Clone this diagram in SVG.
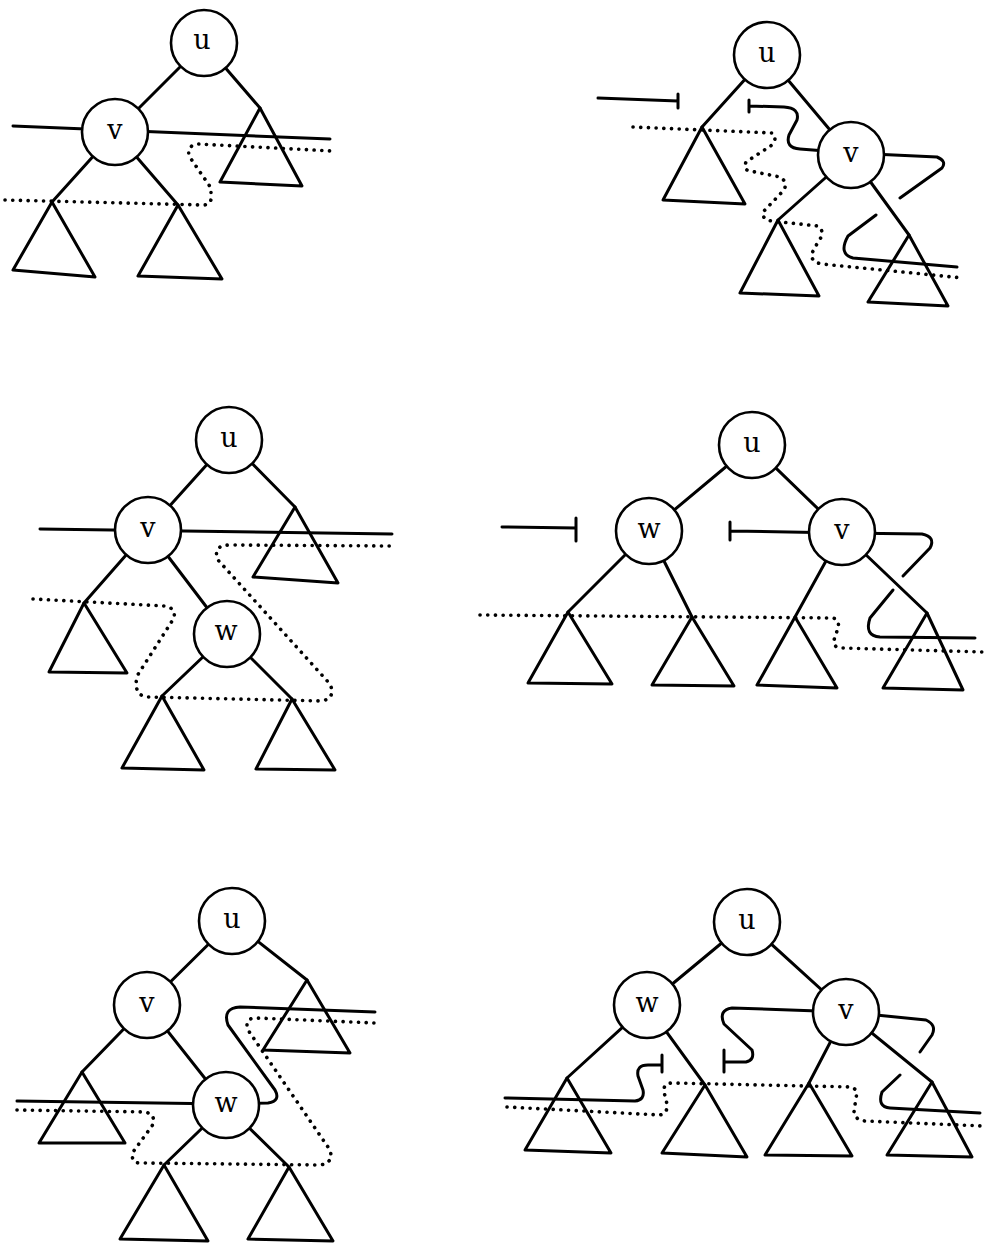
<svg xmlns="http://www.w3.org/2000/svg" width="985" height="1244" viewBox="0 0 985 1244">
<style>
.e{stroke:#000;stroke-width:3;fill:none;stroke-linecap:round}
.t{stroke:#000;stroke-width:3;fill:none;stroke-linejoin:round}
.n{stroke:#000;stroke-width:2.6;fill:#fff}
.s{stroke:#000;stroke-width:3;fill:none;stroke-linecap:round;stroke-linejoin:round}
.d{stroke:#000;stroke-width:3.6;fill:none;stroke-linecap:round;stroke-dasharray:0.1 7.6}
.l{font-family:"DejaVu Serif","Liberation Serif",serif;font-size:27px;text-anchor:middle;fill:#000}
</style>
<rect width="985" height="1244" fill="#fff"/>

<g id="connectors">
  <!-- panel 1 -->
  <path class="e" d="M204,43 L115,132 M204,43 L260,108 M115,132 L52,202 M115,132 L178,205"/>
  <!-- panel 2 -->
  <path class="e" d="M767,55 L702,127 M767,55 L851,155 M851,155 L778,220 M851,155 L909,235"/>
  <!-- panel 3 -->
  <path class="e" d="M229,440 L148,530 M229,440 L295,507 M148,530 L84,603 M148,530 L227,634 M227,634 L162,696 M227,634 L292,699"/>
  <!-- panel 4 -->
  <path class="e" d="M752,445 L649,531 M752,445 L842,532 M649,531 L568,612 M649,531 L692,617 M842,532 L795,617 M842,532 L927,613"/>
  <!-- panel 5 -->
  <path class="e" d="M232,921 L147,1005 M232,921 L307,980 M147,1005 L82,1072 M147,1005 L226,1105 M226,1105 L164,1165 M226,1105 L289,1167"/>
  <!-- panel 6 -->
  <path class="e" d="M747,922 L647,1005 M747,922 L846,1012 M647,1005 L567,1078 M647,1005 L705,1085 M846,1012 L809,1083 M846,1012 L932,1082"/>
</g>

<g id="subtrees">
  <polygon id="p1-t1" class="t" points="52,202 13,270 95,277"/>
  <polygon id="p1-t2" class="t" points="178,205 138,276 222,279"/>
  <polygon id="p1-t3" class="t" points="260,108 220,182 302,186"/>

  <polygon id="p2-t1" class="t" points="702,127 663,200 745,204"/>
  <polygon id="p2-t2" class="t" points="778,220 740,293 819,296"/>
  <polygon id="p2-t3" class="t" points="909,235 868,302 948,306"/>

  <polygon id="p3-t1" class="t" points="295,507 253,577 338,583"/>
  <polygon id="p3-t2" class="t" points="84,603 49,672 127,673"/>
  <polygon id="p3-t3" class="t" points="162,696 122,768 204,770"/>
  <polygon id="p3-t4" class="t" points="292,699 256,769 335,770"/>

  <polygon id="p4-t1" class="t" points="568,612 528,683 612,684"/>
  <polygon id="p4-t2" class="t" points="692,617 652,685 734,686"/>
  <polygon id="p4-t3" class="t" points="795,617 757,685 837,688"/>
  <polygon id="p4-t4" class="t" points="927,613 883,688 963,690"/>

  <polygon id="p5-t1" class="t" points="307,980 263,1050 350,1053"/>
  <polygon id="p5-t2" class="t" points="82,1072 39,1143 125,1143"/>
  <polygon id="p5-t3" class="t" points="164,1165 120,1239 208,1241"/>
  <polygon id="p5-t4" class="t" points="289,1167 248,1239 333,1241"/>

  <polygon id="p6-t1" class="t" points="567,1078 525,1150 611,1153"/>
  <polygon id="p6-t2" class="t" points="705,1085 662,1153 747,1157"/>
  <polygon id="p6-t3" class="t" points="809,1083 765,1155 852,1156"/>
  <polygon id="p6-t4" class="t" points="932,1082 887,1155 972,1157"/>
</g>

<g id="cuts">
  <!-- panel 1 -->
  <path class="s" d="M13,126 L330,139"/>
  <path class="d" d="M5,200 L203,205 Q212,205 211,196 L211,188 L189,156 Q187,145 198,144 L332,151"/>
  <!-- panel 2 -->
  <path class="s" d="M598,98 L678,101 M678,94 L678,108"/>
  <path class="s" d="M749,100 L749,112 M749,106 L784,107 Q800,108 797,120 L789,135 Q785,148 800,149 L851,153"/>
  <path class="s" d="M851,153 L937,157 Q947,161 942,168 L900,198 M876,215 L848,236 Q838,254 853,258 L957,267"/>
  <path class="d" d="M633,127 L772,133 Q778,137 772,145 L746,162 Q743,170 750,171 L780,177 Q788,182 784,190 L763,212 Q762,220 772,221 L818,226 Q826,232 818,242 L812,253 Q810,262 822,264 L963,278"/>
  <!-- panel 3 -->
  <path class="s" d="M40,529 L392,534"/>
  <path class="d" d="M33,599 L165,606 Q176,608 174,618 L137,676 Q133,696 148,697 L322,701 Q336,698 330,684 L218,560 Q212,545 230,545 L392,546"/>
  <!-- panel 4 -->
  <path class="s" d="M502,527 L576,528 M576,518 L576,541"/>
  <path class="s" d="M730,522 L730,540 M730,531 L842,533"/>
  <path class="s" d="M842,533 L922,534 Q936,537 930,548 L903,576 M893,590 L870,618 Q864,636 880,637 L975,638"/>
  <path class="d" d="M480,615 L833,618 Q840,620 838,628 L834,640 Q833,648 842,648 L983,652"/>
  <!-- panel 5 -->
  <path class="s" d="M17,1101 L226,1104"/>
  <path class="s" d="M226,1104 L268,1103 Q281,1101 275,1090 L228,1025 Q222,1008 240,1007 L375,1012"/>
  <path class="d" d="M17,1110 L146,1112 Q157,1116 152,1126 L133,1152 Q130,1164 142,1163 L320,1165 Q334,1163 330,1150 L248,1030 Q244,1018 256,1018 L375,1023"/>
  <!-- panel 6 -->
  <path class="s" d="M505,1098 L635,1101 Q645,1100 643,1090 L638,1076 Q636,1065 648,1065 L662,1065 M662,1055 L662,1072"/>
  <path class="s" d="M724,1050 L724,1072 M724,1062 L746,1062 Q755,1060 752,1050 L724,1024 Q718,1010 732,1008 L846,1012"/>
  <path class="s" d="M846,1012 L926,1020 Q937,1025 932,1035 L920,1052 M900,1075 L882,1092 Q877,1107 890,1108 L980,1113"/>
  <path class="d" d="M507,1107 L660,1115 Q668,1113 667,1104 L664,1092 Q663,1083 672,1083 L852,1087 Q858,1090 856,1098 L854,1112 Q855,1120 865,1121 L983,1126"/>
</g>

<g id="p1-u"><circle class="n" cx="204" cy="43" r="33"/><text class="l" x="202" y="49">u</text></g>
<g id="p1-v"><circle class="n" cx="115" cy="132" r="33"/><text class="l" x="115" y="139">v</text></g>

<g id="p2-u"><circle class="n" cx="767" cy="55" r="33"/><text class="l" x="767" y="62">u</text></g>
<g id="p2-v"><circle class="n" cx="851" cy="155" r="33"/><text class="l" x="851" y="162">v</text></g>

<g id="p3-u"><circle class="n" cx="229" cy="440" r="33"/><text class="l" x="229" y="447">u</text></g>
<g id="p3-v"><circle class="n" cx="148" cy="530" r="33"/><text class="l" x="148" y="537">v</text></g>
<g id="p3-w"><circle class="n" cx="227" cy="634" r="33"/><text class="l" x="226" y="640">w</text></g>

<g id="p4-u"><circle class="n" cx="752" cy="445" r="33"/><text class="l" x="752" y="452">u</text></g>
<g id="p4-w"><circle class="n" cx="649" cy="531" r="33"/><text class="l" x="649" y="538">w</text></g>
<g id="p4-v"><circle class="n" cx="842" cy="532" r="33"/><text class="l" x="842" y="539">v</text></g>

<g id="p5-u"><circle class="n" cx="232" cy="921" r="33"/><text class="l" x="232" y="928">u</text></g>
<g id="p5-v"><circle class="n" cx="147" cy="1005" r="33"/><text class="l" x="147" y="1012">v</text></g>
<g id="p5-w"><circle class="n" cx="226" cy="1105" r="33"/><text class="l" x="226" y="1112">w</text></g>

<g id="p6-u"><circle class="n" cx="747" cy="922" r="33"/><text class="l" x="747" y="929">u</text></g>
<g id="p6-w"><circle class="n" cx="647" cy="1005" r="33"/><text class="l" x="647" y="1012">w</text></g>
<g id="p6-v"><circle class="n" cx="846" cy="1012" r="33"/><text class="l" x="846" y="1019">v</text></g>
</svg>
